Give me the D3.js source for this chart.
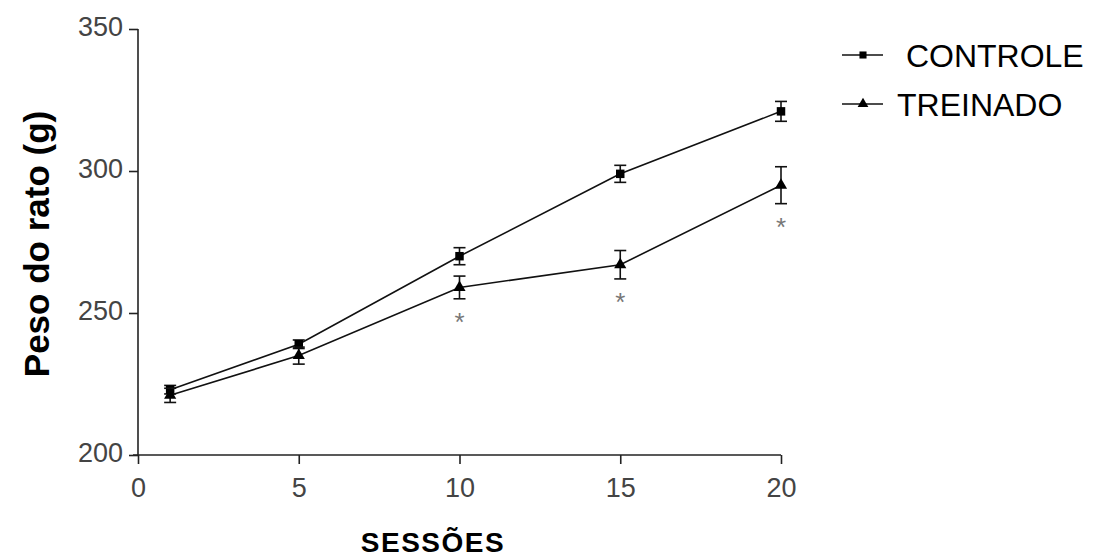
<!DOCTYPE html>
<html>
<head>
<meta charset="utf-8">
<script src="https://cdn.jsdelivr.net/npm/d3@7"></script>
<style>
body { margin: 0; background: #fff; }
text { font-family: "Liberation Sans", Arial, sans-serif; }
</style>
</head>
<body>
<svg id="chart" width="1095" height="557"></svg>
<script>
var sessions = [1, 5, 10, 15, 20];
var controle = [223, 239, 270, 299, 321];
var controleErr = [1.5, 1.5, 3, 3, 3.5];
var treinado = [221, 235, 259, 267, 295];
var treinadoErr = [2.5, 3, 4, 5, 6.5];
var signif = [10, 15, 20];
var xTicks = [0, 5, 10, 15, 20];
var yTicks = [200, 250, 300, 350];

var x = d3.scaleLinear().domain([0, 20]).range([138, 781]);
var y = d3.scaleLinear().domain([200, 350]).range([455, 29]);

var svg = d3.select("#chart");

// axes
svg.append("g")
    .attr("transform", "translate(0,455)")
    .call(d3.axisBottom(x).tickValues(xTicks).tickSize(9).tickSizeOuter(0).tickPadding(14))
    .call(function(g) {
      g.select(".domain").attr("d", "M133,0H781").attr("stroke", "#222").attr("stroke-width", 1.6);
      g.selectAll(".tick line").attr("stroke", "#222").attr("stroke-width", 1.6);
      g.selectAll(".tick text").attr("font-size", 27).attr("fill", "#444")
        .style("font-family", "Liberation Sans, Arial, sans-serif");
    });

svg.append("g")
    .attr("transform", "translate(138,0)")
    .call(d3.axisLeft(y).tickValues(yTicks).tickSize(9).tickSizeOuter(0).tickPadding(6))
    .call(function(g) {
      g.select(".domain").attr("d", "M0,29V455").attr("stroke", "#222").attr("stroke-width", 1.6);
      g.selectAll(".tick line").attr("stroke", "#222").attr("stroke-width", 1.6);
      g.selectAll(".tick text").attr("font-size", 27).attr("fill", "#444").attr("dy", "0.25em")
        .style("font-family", "Liberation Sans, Arial, sans-serif");
    });

// axis titles
svg.append("text")
    .attr("transform", "translate(49,244) rotate(-90)")
    .attr("text-anchor", "middle")
    .attr("font-size", 35).attr("font-weight", "bold")
    .text("Peso do rato (g)");

svg.append("text")
    .attr("x", 433).attr("y", 552)
    .attr("text-anchor", "middle")
    .attr("font-size", 28).attr("font-weight", "bold")
    .attr("letter-spacing", 1.5)
    .text("SESSÕES");

function drawSeries(vals, errs, shape) {
  var pts = sessions.map(function(s, i) { return {s: s, v: vals[i], e: errs[i]}; });
  var line = d3.line().x(function(d) { return x(d.s); }).y(function(d) { return y(d.v); });
  svg.append("path").datum(pts).attr("d", line)
      .attr("fill", "none").attr("stroke", "#111").attr("stroke-width", 1.6);
  var g = svg.append("g").selectAll("g").data(pts).enter().append("g");
  g.append("line")
      .attr("x1", function(d) { return x(d.s); }).attr("x2", function(d) { return x(d.s); })
      .attr("y1", function(d) { return y(d.v + d.e); }).attr("y2", function(d) { return y(d.v - d.e); })
      .attr("stroke", "#111").attr("stroke-width", 1.6);
  [1, -1].forEach(function(k) {
    g.append("line")
        .attr("x1", function(d) { return x(d.s) - 6; }).attr("x2", function(d) { return x(d.s) + 6; })
        .attr("y1", function(d) { return y(d.v + k * d.e); }).attr("y2", function(d) { return y(d.v + k * d.e); })
        .attr("stroke", "#111").attr("stroke-width", 1.6);
  });
  g.append("path")
      .attr("transform", function(d) { return "translate(" + x(d.s) + "," + y(d.v) + ")"; })
      .attr("d", d3.symbol().type(shape).size(shape === d3.symbolSquare ? 72 : 64))
      .attr("fill", "#000");
}

drawSeries(controle, controleErr, d3.symbolSquare);
drawSeries(treinado, treinadoErr, d3.symbolTriangle);

// significance asterisks
svg.append("g").selectAll("text").data(signif).enter().append("text")
    .attr("x", function(d) { return x(d); })
    .attr("y", function(d) { var i = sessions.indexOf(d); return y(treinado[i] - treinadoErr[i]) + 32; })
    .attr("text-anchor", "middle")
    .attr("font-size", 26).attr("fill", "#777")
    .text("*");

// legend
var legend = [
  {label: " CONTROLE", shape: d3.symbolSquare, y: 55},
  {label: "TREINADO", shape: d3.symbolTriangle, y: 104}
];
var lg = svg.append("g").selectAll("g").data(legend).enter().append("g");
lg.append("line")
    .attr("x1", 842).attr("x2", 883)
    .attr("y1", function(d) { return d.y; }).attr("y2", function(d) { return d.y; })
    .attr("stroke", "#111").attr("stroke-width", 1.6);
lg.append("path")
    .attr("transform", function(d) { return "translate(863," + d.y + ")"; })
    .attr("d", function(d) { return d3.symbol().type(d.shape).size(50)(); })
    .attr("fill", "#000");
lg.append("text")
    .attr("x", 897).attr("y", function(d) { return d.y + 12; })
    .attr("font-size", 32)
    .attr("xml:space", "preserve")
    .style("white-space", "pre")
    .text(function(d) { return d.label; });
</script>
</body>
</html>
